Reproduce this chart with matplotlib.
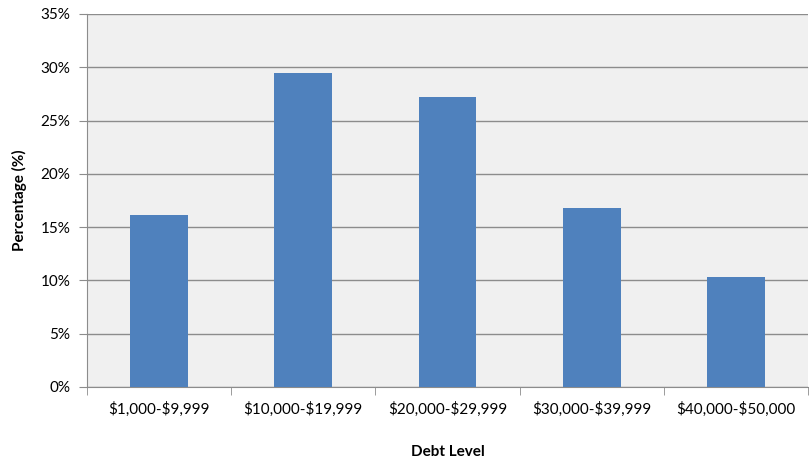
import numpy as np
import matplotlib.pyplot as plt
from matplotlib.ticker import FixedLocator

categories = ['$1,000-$9,999', '$10,000-$19,999', '$20,000-$29,999',
              '$30,000-$39,999', '$40,000-$50,000']
percentages = [16.1, 29.5, 27.2, 16.8, 10.3]
y_ticks = [0, 5, 10, 15, 20, 25, 30, 35]

plt.rcParams['font.family'] = ['Lato', 'DejaVu Sans']
plt.rcParams['text.parse_math'] = False  # keep the dollar signs literal

fig = plt.figure(figsize=(8.09, 4.59), dpi=100)
ax = fig.add_axes([0.1075, 0.157, 0.8915, 0.8125])
ax.set_facecolor('#f0f0f0')

x = np.arange(len(categories))
ax.bar(x, percentages, width=0.4, color='#4f81bd', zorder=3)

ax.set_xlim(-0.5, len(categories) - 0.5)
ax.set_ylim(0, 35)
ax.set_yticks(y_ticks)
ax.set_yticklabels([f'{t}%' for t in y_ticks], fontsize=11)
ax.yaxis.grid(True, color='#8c8c8c', linewidth=1.0, zorder=0)

# labels at centres, tick marks at category boundaries
ax.set_xticks(x)
ax.set_xticklabels(categories, fontsize=11)
ax.tick_params(axis='x', which='major', length=0, pad=11)
ax.xaxis.set_minor_locator(FixedLocator(np.arange(-0.5, len(categories), 1.0)))
ax.tick_params(axis='x', which='minor', length=6, color='#8c8c8c')
ax.tick_params(axis='y', length=6, color='#8c8c8c', pad=6)

for side in ['top', 'right']:
    ax.spines[side].set_visible(False)
for side in ['left', 'bottom']:
    ax.spines[side].set_color('#8c8c8c')

ax.set_xlabel('Debt Level', fontsize=11, fontweight='bold', labelpad=20)
ax.set_ylabel('Percentage (%)', fontsize=11, fontweight='bold', labelpad=10)

fig.savefig('out.png', dpi=100)
